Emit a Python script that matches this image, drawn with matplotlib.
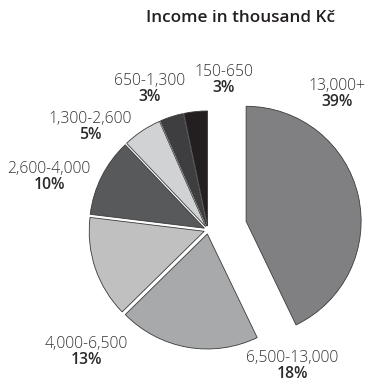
import matplotlib
matplotlib.use("Agg")
import matplotlib.pyplot as plt

# income brackets, clockwise from 12 o'clock
brackets = ["13,000+", "6,500-13,000", "4,000-6,500", "2,600-4,000",
            "1,300-2,600", "650-1,300", "150-650"]
shares = [39, 18, 13, 10, 5, 3, 3]

colors = ["#808083", "#a8a9ab", "#c0c0c1", "#58595b",
          "#d1d2d4", "#3e3e40", "#231f20"]
explode = [0.34, 0.035, 0.035, 0.035, 0.035, 0.035, 0.035]

# label anchors in pixels from the top-left (x of text centre, y between lines)
label_xy = [(337, 94), (292, 366), (86, 352), (49, 177),
            (90, 127), (150, 89), (224, 80)]

W, H = 366, 382
plt.rcParams["font.family"] = ["Open Sans", "DejaVu Sans"]

fig = plt.figure(figsize=(W / 100, H / 100), dpi=100)
ax = fig.add_axes([0, 0, 1, 1])

wedges, _ = ax.pie(shares, startangle=90, counterclock=False, explode=explode,
                   colors=colors, radius=1.0,
                   wedgeprops=dict(edgecolor="#3a3a3a", linewidth=0.6))

for name, pct, (px, py) in zip(brackets, shares, label_xy):
    fx, fy = px / W, 1 - py / H
    fig.text(fx, fy + 0.001, name, ha="center", va="bottom", fontsize=11.3,
             fontweight="light", color="#333333")
    fig.text(fx, fy - 0.001, f"{pct}%", ha="center", va="top", fontsize=11.3,
             fontweight="semibold", color="#2a2a2a")

ax.set_xlim(-208 / 115, (W - 208) / 115)
ax.set_ylim(-(H - 230) / 115, 230 / 115)
ax.set_aspect("equal")
ax.axis("off")

fig.text(241 / W, 1 - 18 / H, "Income in thousand Kč", ha="center", va="center",
         fontsize=12.3, fontweight="semibold", color="#231f20")

fig.savefig("out.png", dpi=100)
